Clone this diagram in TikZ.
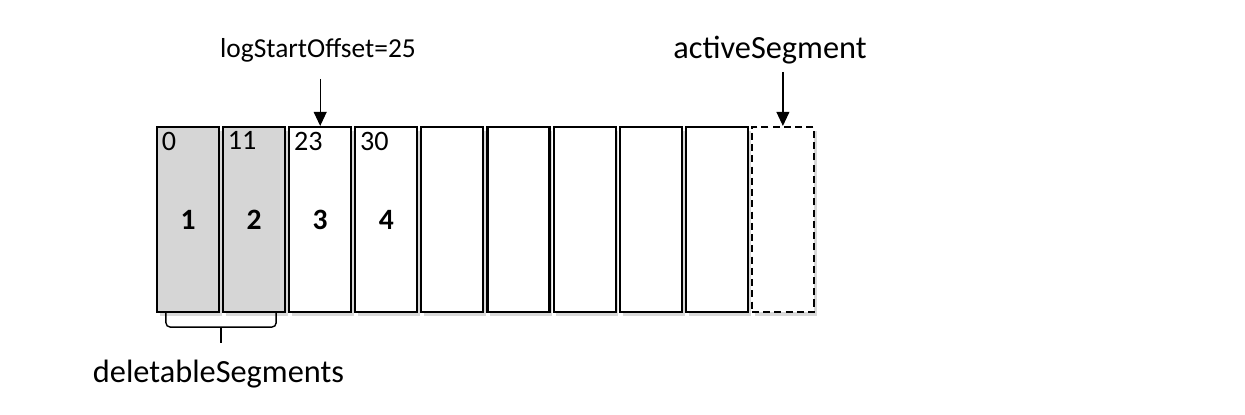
\documentclass[tikz,border=0pt]{standalone}
\usepackage{fontspec}
\setmainfont{Carlito}
\usepackage{tikz}
\usetikzlibrary{arrows.meta, positioning, shadows, calc}
\definecolor{deletegray}{RGB}{214,214,214}

\begin{document}
\begin{tikzpicture}[
  segbox/.style={rectangle, minimum width=1.55cm, minimum height=4.625cm, inner sep=0pt,
    draw=black, line width=1.5pt, fill=white, font=\fontsize{21}{24}\selectfont\bfseries,
    drop shadow={shadow xshift=2pt, shadow yshift=-2.5pt, opacity=0.3}},
  oldbox/.style={segbox, fill=deletegray},
  activebox/.style={segbox, dash pattern=on 5pt off 3pt},
  offs/.style={anchor=north west, inner sep=2pt, font=\fontsize{20}{24}\selectfont},
  arrow/.style={-{Triangle[length=0.35cm, width=0.32cm]}, line width=1pt},
  brace/.style={line width=1pt, rounded corners=3pt},
  biglabel/.style={anchor=base, font=\fontsize{23}{27}\selectfont},
  midlabel/.style={anchor=base, font=\fontsize{19.5}{23}\selectfont},
]
\useasboundingbox (0,0) rectangle (31.125,10.35);

% === segments ===
\node[oldbox]    (seg1)  at (4.7,    4.8625) {1};
\node[oldbox]    (seg2)  at (6.3525, 4.8625) {2};
\node[segbox]    (seg3)  at (8.005,  4.8625) {3};
\node[segbox]    (seg4)  at (9.6575, 4.8625) {4};
\node[segbox]    (seg5)  at (11.31,  4.8625) {};
\node[segbox]    (seg6)  at (12.9625,4.8625) {};
\node[segbox]    (seg7)  at (14.615, 4.8625) {};
\node[segbox]    (seg8)  at (16.2675,4.8625) {};
\node[segbox]    (seg9)  at (17.92,  4.8625) {};
\node[activebox] (seg10) at (19.5725,4.8625) {};

% base offsets
\node[offs] (off1) at ([xshift=2pt, yshift=-2pt]seg1.north west) {0};
\node[offs] (off2) at ([xshift=2pt, yshift=-2pt]seg2.north west) {11};
\node[offs] (off3) at ([xshift=2pt, yshift=-2pt]seg3.north west) {23};
\node[offs] (off4) at ([xshift=2pt, yshift=-2pt]seg4.north west) {30};

% === labels and arrows ===
\node[midlabel] (logstart) at (7.95, 8.925) {logStartOffset=25};
\coordinate (logstartin) at ([yshift=1.175cm]seg3.north);
\draw[arrow] (logstartin) -- (seg3.north);

\node[biglabel] (active) at (19.25, 8.9) {activeSegment};
\coordinate (activein) at ([yshift=1.35cm]seg10.north);
\draw[arrow] (activein) -- (seg10.north);

% === deletable brace ===
\coordinate (bracemid) at ($(seg1.south east)!0.5!(seg2.south west)+(0,-0.35)$);
\draw[brace] ([xshift=0.25cm]seg1.south west) -- ++(0,-0.35) -| ([xshift=-0.25cm]seg2.south east);
\draw[brace] (bracemid) -- ++(0,-0.4);
\node[biglabel] (deletable) at (5.4625, 0.8) {deletableSegments};

\end{tikzpicture}
\end{document}
